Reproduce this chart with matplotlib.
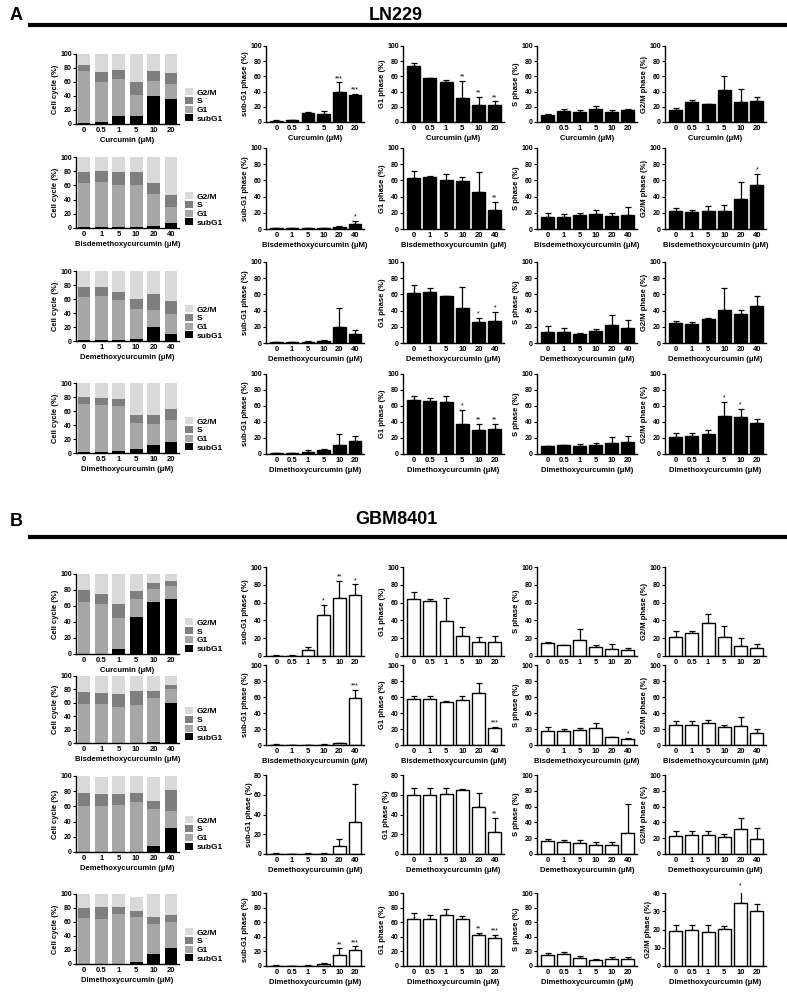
import numpy as np
import matplotlib.pyplot as plt
from matplotlib.lines import Line2D

plt.rcParams['font.family'] = ['Liberation Sans', 'DejaVu Sans']
plt.rcParams['font.weight'] = 'bold'
plt.rcParams['axes.labelweight'] = 'bold'

# -------------------------------------------------
# Data
# order in each 2D list: subG1, G1, S, G2/M
# -------------------------------------------------
phases = ['subG1', 'G1', 'S', 'G2/M']
ylabels = ['sub-G1 phase (%)', 'G1 phase (%)', 'S phase (%)', 'G2/M phase (%)']
doses_a = ['0', '0.5', '1', '5', '10', '20']
doses_b = ['0', '1', '5', '10', '20', '40']

# --- LN229 ---
ln_cur_mean = [[1.5, 2.5, 12, 11, 40, 35.5], [74, 58, 52, 31, 22, 22],
               [9.5, 14, 13, 17.5, 13.5, 15.5], [15.5, 26, 23.5, 42, 26.5, 28]]
ln_cur_err = [[0.5, 0.5, 1.5, 3.5, 12, 2], [4, 0.5, 3, 23, 11, 5],
              [1, 3, 3, 4, 2, 2], [3.5, 3, 0.5, 19, 17, 5]]
ln_cur_star = [['', '', '', '', '***', '***'], ['', '', '', '**', '**', '**'],
               [''] * 6, [''] * 6]

ln_bdmc_mean = [[1, 1, 1, 1, 2.5, 6.5], [63, 64, 60, 59, 46, 23],
                [15, 15, 17.5, 19, 15.5, 17.5], [22, 21, 22, 22.5, 37, 54.5]]
ln_bdmc_err = [[0.3, 0.3, 0.3, 0.3, 1, 3.5], [9, 1.5, 8, 5, 24, 10],
               [5, 4, 2, 5, 4, 9.5], [3.5, 2, 6, 7.5, 21, 14]]
ln_bdmc_star = [['', '', '', '', '', '*'], ['', '', '', '', '', '**'],
                [''] * 6, ['', '', '', '', '', '*']]

ln_dmc_mean = [[1, 1, 1.5, 2.5, 19.5, 10.5], [61.5, 63, 57.5, 43, 25.5, 27.5],
               [14, 13, 11.5, 15, 22, 18.5], [24.5, 24, 30, 40.5, 35.5, 45.5]]
ln_dmc_err = [[0.3, 0.3, 0.5, 1, 24, 5.5], [9.5, 5.5, 1, 26, 5, 11],
              [7, 5, 1, 2, 12, 9.5], [2.5, 1.5, 0.5, 28, 5.5, 12]]
ln_dmc_star = [[''] * 6, ['', '', '', '', '*', '*'], [''] * 6, [''] * 6]

ln_dimc_mean = [[1.5, 1.5, 2.5, 5.5, 11, 16], [68, 66.5, 64.5, 37.5, 30, 31],
                [10, 11, 9.5, 11.5, 14, 15.5], [21, 22, 24.5, 47, 46.5, 38.5]]
ln_dimc_err = [[0.3, 0.3, 2, 0.5, 14, 7], [4, 4, 8, 18, 8, 7],
               [0.5, 0.3, 2.5, 2, 7, 7], [5, 4.5, 5.5, 18, 9.5, 5.5]]
ln_dimc_star = [[''] * 6, ['', '', '', '*', '**', '**'], [''] * 6,
                ['', '', '', '*', '*', '']]

# --- GBM8401 ---
gb_cur_mean = [[0.5, 0.5, 6.5, 46, 65, 68.5], [64, 61.5, 39, 23, 16, 16],
               [15, 12.5, 17.5, 10, 8, 7], [21, 25.5, 37.5, 21.5, 11.5, 9]]
gb_cur_err = [[0.3, 0.3, 4, 11, 19, 12], [7.5, 2, 26, 9.5, 5.5, 7],
              [1, 0.3, 13, 2, 5.5, 1.5], [7, 2.5, 10, 12.5, 9, 4.5]]
gb_cur_star = [['', '', '', '*', '**', '*'], [''] * 6, [''] * 6, [''] * 6]

gb_bdmc_mean = [[0.5, 0.3, 0.3, 0.5, 2, 59], [57.5, 57.5, 53.5, 56, 65.5, 21],
                [18, 17, 19, 21, 9.5, 7], [24.5, 25.5, 27.5, 23, 23.5, 14.5]]
gb_bdmc_err = [[0.2, 0.2, 0.2, 0.3, 1, 9.5], [4, 3.5, 1.5, 5, 12.5, 1.5],
               [4.5, 3, 2, 7, 1, 1.5], [5, 4.5, 3.5, 2.5, 12, 5]]
gb_bdmc_star = [['', '', '', '', '', '***'], ['', '', '', '', '', '***'],
                ['', '', '', '', '', '*'], [''] * 6]

gb_dmc_mean = [[0.5, 0.3, 0.5, 0.5, 8.5, 32], [60, 60, 61, 65, 48, 22.5],
               [16.5, 15.5, 14.5, 12, 11, 27], [22.5, 23.5, 23.5, 22, 31.5, 18.5]]
gb_dmc_err = [[0.2, 0.2, 0.3, 0.3, 7, 39], [7, 6.5, 6, 1, 14, 14],
              [3, 2.5, 3.5, 3, 4.5, 36], [6, 6, 6, 3, 14.5, 14.5]]
gb_dmc_star = [[''] * 6, ['', '', '', '', '', '**'], [''] * 6, [''] * 6]

gb_dimc_mean = [[0.5, 0.3, 0.5, 2.5, 15, 22.5], [65, 64.5, 70.5, 65, 42, 38],
                [15, 16, 10.5, 8, 10, 9.5], [19, 19.5, 18.5, 20.5, 34.5, 30]]
gb_dimc_err = [[0.2, 0.2, 0.3, 1, 9, 4.5], [7, 6, 8, 4, 3, 5],
               [3, 3, 3, 1.5, 3, 3], [3.5, 3, 4, 1.5, 7.5, 4]]
gb_dimc_star = [['', '', '', '', '**', '***'], ['', '', '', '', '**', '***'],
                [''] * 6, ['', '', '', '', '*', '']]

# y-axis top per bar chart (subG1, G1, S, G2/M)
ymax_default = [100, 100, 100, 100]
gb_dmc_ymax = [80, 80, 100, 100]
gb_dimc_ymax = [100, 100, 100, 40]

# -------------------------------------------------
# Layout (pixel boxes)
# -------------------------------------------------
W, H = 787, 992
fig = plt.figure(figsize=(W / 100, H / 100), dpi=100)

stack_cols = (76, 179)
bar_cols = [(266, 364), (403, 504), (537, 637), (665, 766)]

stack_colors = ['black', '#a6a6a6', '#7f7f7f', '#d9d9d9']


def px_axes(l, t, r, b):
    return fig.add_axes([l / W, 1 - b / H, (r - l) / W, (b - t) / H])


def style(ax, ymax):
    for s in ['top', 'right']:
        ax.spines[s].set_visible(False)
    ax.spines['left'].set_linewidth(1)
    ax.spines['bottom'].set_linewidth(1)
    step = 10 if ymax == 40 else 20
    ax.set_ylim(0, ymax)
    ax.set_yticks(np.arange(0, ymax + 1, step))
    ax.tick_params(axis='y', length=2, width=0.8, labelsize=5, pad=1)
    ax.tick_params(axis='x', length=0, labelsize=5.5, pad=2.5)


def stacked(ax, doses, mean, drug):
    x = np.arange(len(doses))
    bottom = np.zeros(len(doses))
    for vals, c, lab in zip(mean, stack_colors, phases):
        ax.bar(x, vals, 0.72, bottom=bottom, color=c, label=lab, linewidth=0)
        bottom += np.array(vals)
    style(ax, 100)
    ax.set_xlim(-0.45, len(doses) - 0.55)
    ax.set_xticks(x, doses)
    ax.set_ylabel('Cell cycle (%)', fontsize=5.5, labelpad=1)
    ax.set_xlabel(drug + ' (\u03bcM)', fontsize=5.5, labelpad=1.5)
    h, l = ax.get_legend_handles_labels()
    ax.legend(h[::-1], l[::-1], loc='lower left', bbox_to_anchor=(1.03, -0.03),
              frameon=False, fontsize=6, handlelength=0.9, handleheight=0.9,
              labelspacing=0.05, handletextpad=0.4, borderaxespad=0)


def phase_bar(ax, doses, m, e, st, fill, ymax, ylabel, drug):
    x = np.arange(len(doses))
    ax.errorbar(x, m, yerr=[np.zeros(len(m)), e], fmt='none', ecolor='black',
                elinewidth=0.9, capsize=2, capthick=0.9, zorder=1)
    ax.bar(x, m, 0.8, color=fill, edgecolor='black', linewidth=1, zorder=2)
    for xi, mi, ei, s in zip(x, m, e, st):
        if s:
            ax.text(xi, mi + ei + ymax * 0.005, s, ha='center', va='bottom',
                    fontsize=5, fontweight='normal')
    style(ax, ymax)
    ax.set_xlim(-0.66, len(doses) - 0.43)
    ax.set_xticks(x, doses)
    ax.set_ylabel(ylabel, fontsize=5.5, labelpad=1)
    ax.set_xlabel(drug + ' (\u03bcM)', fontsize=5.5, labelpad=1.5)


def panel(rows, stack_rows, bar_rows, fill):
    for (drug, doses, mean, err, star, ymax), srow, brow in zip(rows, stack_rows, bar_rows):
        ax = px_axes(stack_cols[0], srow[0], stack_cols[1], srow[1])
        stacked(ax, doses, mean, drug)
        for k in range(4):
            ax = px_axes(bar_cols[k][0], brow[0], bar_cols[k][1], brow[1])
            phase_bar(ax, doses, mean[k], err[k], star[k], fill, ymax[k],
                      ylabels[k], drug)


rows_a = [('Curcumin', doses_a, ln_cur_mean, ln_cur_err, ln_cur_star, ymax_default),
          ('Bisdemethoxycurcumin', doses_b, ln_bdmc_mean, ln_bdmc_err, ln_bdmc_star, ymax_default),
          ('Demethoxycurcumin', doses_b, ln_dmc_mean, ln_dmc_err, ln_dmc_star, ymax_default),
          ('Dimethoxycurcumin', doses_a, ln_dimc_mean, ln_dimc_err, ln_dimc_star, ymax_default)]
rows_b = [('Curcumin', doses_a, gb_cur_mean, gb_cur_err, gb_cur_star, ymax_default),
          ('Bisdemethoxycurcumin', doses_b, gb_bdmc_mean, gb_bdmc_err, gb_bdmc_star, ymax_default),
          ('Demethoxycurcumin', doses_b, gb_dmc_mean, gb_dmc_err, gb_dmc_star, gb_dmc_ymax),
          ('Dimethoxycurcumin', doses_a, gb_dimc_mean, gb_dimc_err, gb_dimc_star, gb_dimc_ymax)]

panel(rows_a,
      [(54, 124), (157, 228), (271, 341), (383, 453)],
      [(46, 122), (148, 229), (262, 343), (374, 454)], 'black')
panel(rows_b,
      [(574, 654), (676, 743), (776, 852), (894, 964)],
      [(567, 656), (665, 745), (775, 854), (893, 966)], 'white')

# -------------------------------------------------
# Panel headers
# -------------------------------------------------
for letter, title, ty, ly in [('A', 'LN229', 16, 25), ('B', 'GBM8401', 521, 537)]:
    fig.text(10 / W, 1 - ty / H, letter, fontsize=13, fontweight='bold',
             va='center', ha='left')
    fig.text(396 / W, 1 - (ty - 1) / H, title, fontsize=13, fontweight='bold',
             va='center', ha='center')
    fig.add_artist(Line2D([30 / W, 785 / W], [1 - ly / H, 1 - ly / H],
                          color='black', linewidth=3, transform=fig.transFigure))

fig.savefig('out.png', dpi=100)
